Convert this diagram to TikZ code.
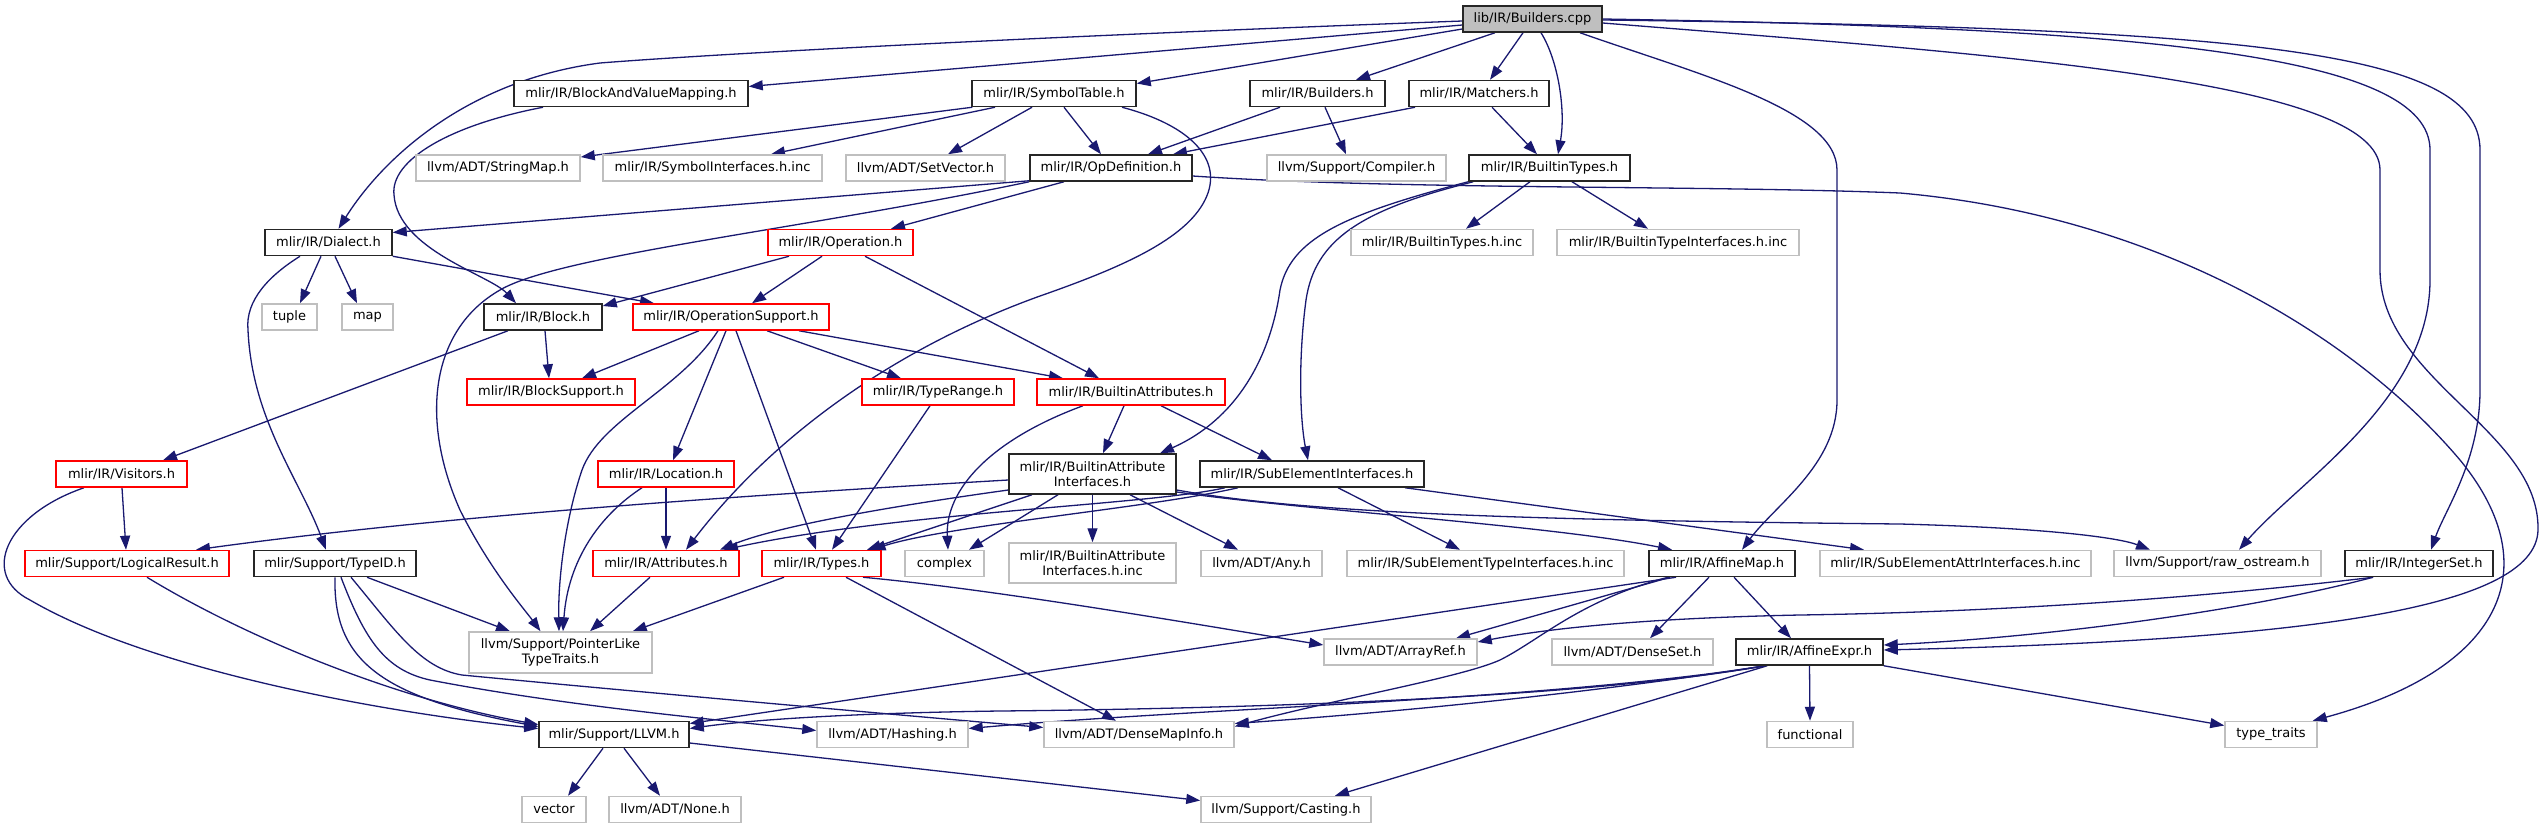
\documentclass[tikz,border=0pt]{standalone}
\usepackage{fontspec}
\setmainfont{DejaVu Sans}
\usetikzlibrary{arrows.meta,calc,backgrounds}
\definecolor{edgec}{HTML}{191970}
\definecolor{grayb}{HTML}{BFBFBF}
\definecolor{redb}{HTML}{FF0000}
\begin{document}
\begin{tikzpicture}[x=1pt,y=-1pt,
  nbase/.style={rectangle, fill=white, inner sep=0pt, minimum height=26pt, line width=1.5pt, font=\fontsize{13}{15}\selectfont, text=black},
  blk/.style={nbase, draw=black!85},
  gry/.style={nbase, draw=grayb},
  rdd/.style={nbase, draw=redb},
  dep/.style={draw=edgec, line width=1.3pt, -{Triangle[length=14pt,width=10pt]}}]
\useasboundingbox (0,0) rectangle (2540,828);
% nodes
\node[blk, fill=grayb, minimum width=139pt] (bcpp) at (1532.5,19) {lib/IR/Builders.cpp};
\node[blk, minimum width=234pt] (bavm) at (631,93.5) {mlir/IR/BlockAndValueMapping.h};
\node[blk, minimum width=164pt] (symtab) at (1054,93.5) {mlir/IR/SymbolTable.h};
\node[blk, minimum width=135pt] (buildersh) at (1317.5,93.5) {mlir/IR/Builders.h};
\node[blk, minimum width=140pt] (matchers) at (1479,93.5) {mlir/IR/Matchers.h};
\node[gry, minimum width=164pt] (stringmap) at (498,168) {llvm/ADT/StringMap.h};
\node[gry, minimum width=219pt] (symifinc) at (712.5,168) {mlir/IR/SymbolInterfaces.h.inc};
\node[gry, minimum width=159pt] (setvector) at (925.5,168) {llvm/ADT/SetVector.h};
\node[blk, minimum width=162pt] (opdef) at (1111,168) {mlir/IR/OpDefinition.h};
\node[gry, minimum width=179pt] (compiler) at (1356.5,168) {llvm/Support/Compiler.h};
\node[blk, minimum width=161pt] (btypes) at (1549.5,168) {mlir/IR/BuiltinTypes.h};
\node[blk, minimum width=127pt] (dialect) at (328.5,242.5) {mlir/IR/Dialect.h};
\node[rdd, minimum width=145pt] (operation) at (840.5,242.5) {mlir/IR/Operation.h};
\node[gry, minimum width=182pt] (btypesinc) at (1442,242.5) {mlir/IR/BuiltinTypes.h.inc};
\node[gry, minimum width=242pt] (btypeifinc) at (1678,242.5) {mlir/IR/BuiltinTypeInterfaces.h.inc};
\node[gry, minimum width=55pt] (tuple) at (289.5,317) {tuple};
\node[gry, minimum width=51pt] (mapn) at (367.5,317) {map};
\node[blk, minimum width=118pt] (block) at (543,317) {mlir/IR/Block.h};
\node[rdd, minimum width=196pt] (opsupport) at (731,317) {mlir/IR/OperationSupport.h};
\node[rdd, minimum width=168pt] (blocksupport) at (551,392) {mlir/IR/BlockSupport.h};
\node[rdd, minimum width=152pt] (typerange) at (938,392) {mlir/IR/TypeRange.h};
\node[rdd, minimum width=188pt] (battrs) at (1131,392) {mlir/IR/BuiltinAttributes.h};
\node[rdd, minimum width=131pt] (visitors) at (121.5,474) {mlir/IR/Visitors.h};
\node[rdd, minimum width=136pt] (location) at (666,474) {mlir/IR/Location.h};
\node[blk, minimum width=167pt, minimum height=40pt, align=center] (bai) at (1092.5,474) {mlir/IR/BuiltinAttribute\\Interfaces.h};
\node[blk, minimum width=224pt] (sei) at (1312,474) {mlir/IR/SubElementInterfaces.h};
\node[rdd, minimum width=204pt] (logicalresult) at (127,563.5) {mlir/Support/LogicalResult.h};
\node[blk, minimum width=162pt] (typeid) at (335,563.5) {mlir/Support/TypeID.h};
\node[rdd, minimum width=146pt] (attributes) at (666,563.5) {mlir/IR/Attributes.h};
\node[rdd, minimum width=119pt] (types) at (821.5,563.5) {mlir/IR/Types.h};
\node[gry, minimum width=79pt] (complexn) at (944.5,563.5) {complex};
\node[gry, minimum width=167pt, minimum height=40pt, align=center] (baiinc) at (1092.5,563) {mlir/IR/BuiltinAttribute\\Interfaces.h.inc};
\node[gry, minimum width=121pt] (anyn) at (1261.5,563.5) {llvm/ADT/Any.h};
\node[gry, minimum width=277pt] (seltinc) at (1485.5,563.5) {mlir/IR/SubElementTypeInterfaces.h.inc};
\node[blk, minimum width=146pt] (affmap) at (1722,563.5) {mlir/IR/AffineMap.h};
\node[gry, minimum width=271pt] (selattrinc) at (1955.5,563.5) {mlir/IR/SubElementAttrInterfaces.h.inc};
\node[gry, minimum width=207pt] (rawos) at (2217.5,563.5) {llvm/Support/raw\_ostream.h};
\node[blk, minimum width=148pt] (intset) at (2419,563.5) {mlir/IR/IntegerSet.h};
\node[gry, minimum width=183pt, minimum height=41pt, align=center] (pointerlike) at (560.5,652.5) {llvm/Support/PointerLike\\TypeTraits.h};
\node[gry, minimum width=153pt] (arrayref) at (1400.5,652) {llvm/ADT/ArrayRef.h};
\node[gry, minimum width=161pt] (denseset) at (1632.5,652) {llvm/ADT/DenseSet.h};
\node[blk, minimum width=147pt] (affexpr) at (1809.5,652) {mlir/IR/AffineExpr.h};
\node[blk, minimum width=150pt] (llvmh) at (614,734.5) {mlir/Support/LLVM.h};
\node[gry, minimum width=151pt] (hashing) at (892.5,734.5) {llvm/ADT/Hashing.h};
\node[gry, minimum width=190pt] (densemapinfo) at (1139,734.5) {llvm/ADT/DenseMapInfo.h};
\node[gry, minimum width=86pt] (functional) at (1810,734.5) {functional};
\node[gry, minimum width=92pt] (typetraits) at (2271,734.5) {type\_traits};
\node[gry, minimum width=64pt] (vectorn) at (554,809.5) {vector};
\node[gry, minimum width=132pt] (llvmnone) at (675,809.5) {llvm/ADT/None.h};
\node[gry, minimum width=170pt] (casting) at (1286,809.5) {llvm/Support/Casting.h};

\begin{pgfonlayer}{background}
\fill[white] (0,0) rectangle (2540,828);
% Builders.cpp
\draw[dep] ($(bcpp.west)+(0,2)$) .. controls (1000,38) and (700,55) .. (600,63) .. controls (470,80) and (385,155) .. ($(dialect.north)+(10,0)$);
\draw[dep] ($(bcpp.west)+(0,6)$) -- ($(bavm.east)+(0,-7)$);
\draw[dep] ($(bcpp.west)+(0,10)$) -- ($(symtab.east)+(0,-10)$);
\draw[dep] ($(bcpp.south)+(-37.5,0)$) -- ($(buildersh.north)+(38.5,0)$);
\draw[dep] ($(bcpp.south)+(-9.5,0)$) -- ($(matchers.north)+(11,0)$);
\draw[dep] ($(bcpp.south)+(8.5,0)$) .. controls (1558,60) and (1566,110) .. ($(btypes.north)+(8.5,0)$);
\draw[dep] ($(bcpp.south)+(47.5,0)$) .. controls (1700,75) and (1837,110) .. (1837,170) -- (1837,400) .. controls (1837,465) and (1775,505) .. ($(affmap.north)+(20,0)$);
\draw[dep] (bcpp.east) .. controls (2150,28) and (2430,55) .. (2430,150) -- (2430,280) .. controls (2430,400) and (2300,480) .. ($(rawos.north)+(21.5,0)$);
\draw[dep] ($(bcpp.east)+(0,1)$) .. controls (2250,28) and (2480,50) .. (2480,150) -- (2480,390) .. controls (2480,460) and (2445,510) .. ($(intset.north)+(12,0)$);
\draw[dep] ($(bcpp.east)+(0,4)$) .. controls (2000,55) and (2380,80) .. (2380,170) -- (2380,270) .. controls (2380,380) and (2540,430) .. (2538,530) .. controls (2536,610) and (2300,640) .. ($(affexpr.east)+(0,-2)$);
% BlockAndValueMapping
\draw[dep] ($(bavm.south)+(-88,0)$) .. controls (450,125) and (390,160) .. (394,195) .. controls (398,250) and (490,275) .. ($(block.north)+(-27,0)$);
% SymbolTable
\draw[dep] ($(symtab.south west)+(1,0)$) -- ($(stringmap.east)+(0,-11)$);
\draw[dep] ($(symtab.south)+(-59,0)$) -- ($(symifinc.north)+(58.5,0)$);
\draw[dep] ($(symtab.south)+(-22,0)$) -- ($(setvector.north)+(22.5,0)$);
\draw[dep] ($(symtab.south)+(10,0)$) -- ($(opdef.north)+(-10,0)$);
\draw[dep] ($(symtab.south)+(68,0)$) .. controls (1190,125) and (1225,160) .. (1205,200) .. controls (1185,240) and (1120,268) .. (1040,296) .. controls (890,350) and (770,440) .. ($(attributes.north)+(20,0)$);
% Builders.h, Matchers.h
\draw[dep] ($(buildersh.south)+(-37.5,0)$) -- ($(opdef.north)+(37,0)$);
\draw[dep] ($(buildersh.south)+(7.5,0)$) -- ($(compiler.north)+(-10.5,0)$);
\draw[dep] ($(matchers.south)+(-64,0)$) -- ($(opdef.north)+(62,0)$);
\draw[dep] ($(matchers.south)+(13,0)$) -- ($(btypes.north)+(-12.5,0)$);
% BuiltinTypes
\draw[dep] ($(btypes.south)+(-19.5,0)$) -- ($(btypesinc.north)+(24,0)$);
\draw[dep] ($(btypes.south)+(22.5,0)$) -- ($(btypeifinc.north)+(-30,0)$);
\draw[dep] (btypes.south west) .. controls (1340,215) and (1290,240) .. (1280,290) .. controls (1270,360) and (1235,420) .. ($(bai.north)+(67.5,0)$);
\draw[dep] ($(btypes.south west)+(5,0)$) .. controls (1360,210) and (1315,240) .. (1306,300) .. controls (1298,360) and (1300,420) .. ($(sei.north)+(-4,0)$);
% OpDefinition
\draw[dep] ($(opdef.south west)+(0,-1)$) -- ($(dialect.east)+(0,-10)$);
\draw[dep] (opdef.south west) .. controls (800,230) and (560,255) .. (500,290) .. controls (430,330) and (420,420) .. (460,510) .. controls (490,570) and (525,610) .. ($(pointerlike.north)+(-20,0)$);
\draw[dep] ($(opdef.south)+(-47,0)$) -- ($(operation.north)+(50.5,0)$);
\draw[dep] ($(opdef.east)+(0,8)$) .. controls (1400,190) and (1700,185) .. (1900,193) .. controls (2150,215) and (2350,330) .. (2460,460) .. controls (2550,570) and (2500,670) .. ($(typetraits.north east)+(-5,0)$);
% Dialect
\draw[dep] ($(dialect.south)+(-7.5,0)$) -- ($(tuple.north)+(10.5,0)$);
\draw[dep] ($(dialect.south)+(6.5,0)$) -- ($(mapn.north)+(-10.5,0)$);
\draw[dep] ($(dialect.south)+(-28.5,0)$) .. controls (270,275) and (245,300) .. (248,330) .. controls (252,420) and (300,480) .. ($(typeid.north)+(-9,0)$);
\draw[dep] (dialect.south east) -- ($(opsupport.north)+(-77,0)$);
% Operation
\draw[dep] ($(operation.south)+(-51.5,0)$) -- ($(block.east)+(0,-11)$);
\draw[dep] ($(operation.south)+(-18.5,0)$) -- ($(opsupport.north)+(21,0)$);
\draw[dep] ($(operation.south)+(24.5,0)$) -- ($(battrs.north)+(-32,0)$);
% Block
\draw[dep] ($(block.south)+(2,0)$) -- ($(blocksupport.north)+(-2,0)$);
\draw[dep] ($(block.south)+(-35,0)$) -- ($(visitors.north)+(41.5,0)$);
% OperationSupport
\draw[dep] ($(opsupport.south)+(-32,0)$) -- ($(blocksupport.north)+(31,0)$);
\draw[dep] ($(opsupport.south)+(-13,0)$) .. controls (680,390) and (600,420) .. (582,470) .. controls (565,520) and (558,580) .. ($(pointerlike.north)+(-1.5,0)$);
\draw[dep] ($(opsupport.south)+(-5,0)$) -- ($(location.north)+(7,0)$);
\draw[dep] ($(opsupport.south)+(5,0)$) -- ($(types.north)+(-5.5,0)$);
\draw[dep] ($(opsupport.south)+(36,0)$) -- ($(typerange.north)+(-37,0)$);
\draw[dep] ($(opsupport.south)+(68,0)$) -- ($(battrs.north)+(-68,0)$);
% TypeRange
\draw[dep] ($(typerange.south)+(-8,0)$) -- ($(types.north)+(10.5,0)$);
% BuiltinAttributes
\draw[dep] ($(battrs.south)+(-48,0)$) .. controls (990,440) and (945,490) .. ($(complexn.north)+(3.5,0)$);
\draw[dep] ($(battrs.south)+(-7,0)$) -- ($(bai.north)+(10.5,0)$);
\draw[dep] ($(battrs.south)+(30,0)$) -- ($(sei.north)+(-40,0)$);
% BuiltinAttributeInterfaces
\draw[dep] ($(bai.west)+(0,6)$) .. controls (750,495) and (450,515) .. ($(logicalresult.north)+(69,0)$);
\draw[dep] ($(bai.west)+(0,16)$) .. controls (900,505) and (780,525) .. ($(attributes.north)+(54,0)$);
\draw[dep] ($(bai.south)+(-60.5,0)$) -- ($(types.north)+(45.5,0)$);
\draw[dep] ($(bai.south)+(-34.5,0)$) -- ($(complexn.north)+(24.5,0)$);
\draw[dep] (bai.south) -- (baiinc.north);
\draw[dep] ($(bai.south)+(37.5,0)$) -- ($(anyn.north)+(-23.5,0)$);
\draw[dep] ($(bai.east)+(0,18)$) .. controls (1300,510) and (1550,525) .. ($(affmap.north)+(-50,0)$);
\draw[dep] ($(bai.east)+(0,16)$) .. controls (1300,512) and (1500,520) .. (1900,524) .. controls (2050,528) and (2120,538) .. ($(rawos.north)+(-67.5,0)$);
% SubElementInterfaces
\draw[dep] ($(sei.south)+(26,0)$) -- ($(seltinc.north)+(-25.5,0)$);
\draw[dep] ($(sei.south)+(93,0)$) -- ($(selattrinc.north)+(-91.5,0)$);
\draw[dep] ($(sei.south)+(-87,0)$) .. controls (1150,505) and (900,512) .. ($(attributes.north)+(58,0)$);
\draw[dep] ($(sei.south)+(-74,0)$) .. controls (1150,508) and (950,525) .. ($(types.north)+(50,0)$);
% Visitors, Location, LogicalResult
\draw[dep] ($(visitors.south)+(-37.5,0)$) .. controls (5,515) and (-20,575) .. (30,600) .. controls (150,670) and (380,712) .. ($(llvmh.west)+(0,-6)$);
\draw[dep] ($(visitors.south)+(0.5,0)$) -- ($(logicalresult.north)+(-1,0)$);
\draw[dep] (location.south) -- (attributes.north);
\draw[dep] ($(location.south)+(-24,0)$) .. controls (600,515) and (568,560) .. ($(pointerlike.north)+(2.5,0)$);
\draw[dep] ($(logicalresult.south)+(20,0)$) .. controls (250,640) and (400,700) .. ($(llvmh.west)+(0,-10)$);
% TypeID
\draw[dep] (typeid.south) .. controls (333,660) and (380,697) .. ($(llvmh.west)+(0,-8)$);
\draw[dep] ($(typeid.south)+(6,0)$) .. controls (365,640) and (385,670) .. (430,680) .. controls (560,705) and (700,718) .. ($(hashing.west)+(0,-4)$);
\draw[dep] ($(typeid.south)+(16,0)$) .. controls (395,630) and (420,668) .. (462,675) .. controls (650,693) and (900,715) .. ($(densemapinfo.west)+(0,-7)$);
\draw[dep] ($(typeid.south)+(32,0)$) -- ($(pointerlike.north)+(-50.5,0)$);
% Attributes, Types
\draw[dep] ($(attributes.south)+(-16,0)$) -- ($(pointerlike.north)+(29.5,0)$);
\draw[dep] ($(types.south)+(-37.5,0)$) -- ($(pointerlike.north east)+(-20,0)$);
\draw[dep] ($(types.south)+(24.5,0)$) -- ($(densemapinfo.north)+(-23,0)$);
\draw[dep] ($(types.south)+(41.5,0)$) .. controls (1000,590) and (1200,625) .. ($(arrayref.west)+(0,-7)$);
% AffineMap
\draw[dep] ($(affmap.south)+(-46,0)$) -- ($(llvmh.east)+(0,-11)$);
\draw[dep] ($(affmap.south)+(-52,0)$) -- ($(arrayref.north)+(55.5,0)$);
\draw[dep] ($(affmap.south)+(-54,0)$) .. controls (1580,600) and (1540,640) .. (1500,660) .. controls (1460,678) and (1330,700) .. ($(densemapinfo.east)+(0,-8)$);
\draw[dep] ($(affmap.south)+(-13,0)$) -- ($(denseset.north)+(17.5,0)$);
\draw[dep] ($(affmap.south)+(12,0)$) -- ($(affexpr.north)+(-18.5,0)$);
% IntegerSet
\draw[dep] ($(intset.south)+(-46,0)$) .. controls (2200,598) and (2000,612) .. (1800,615) .. controls (1650,618) and (1550,628) .. ($(arrayref.east)+(0,-10)$);
\draw[dep] ($(intset.south)+(-46,0)$) .. controls (2250,610) and (2050,637) .. ($(affexpr.east)+(0,-7)$);
% AffineExpr
\draw[dep] ($(affexpr.south west)+(30,0)$) .. controls (1600,695) and (1300,708) .. (1000,711) .. controls (850,713) and (750,720) .. ($(llvmh.east)+(0,-6)$);
\draw[dep] ($(affexpr.south west)+(30,0)$) .. controls (1550,700) and (1200,708) .. ($(hashing.east)+(0,-6)$);
\draw[dep] ($(affexpr.south west)+(30,0)$) .. controls (1600,692) and (1400,712) .. ($(densemapinfo.east)+(0,-11)$);
\draw[dep] ($(affexpr.south west)+(32,0)$) -- ($(casting.north)+(49,0)$);
\draw[dep] (affexpr.south) -- (functional.north);
\draw[dep] (affexpr.south east) -- ($(typetraits.west)+(0,-9)$);
% LLVM.h
\draw[dep] ($(llvmh.south)+(-11,0)$) -- ($(vectorn.north)+(14,0)$);
\draw[dep] ($(llvmh.south)+(10,0)$) -- ($(llvmnone.north)+(-15,0)$);
\draw[dep] ($(llvmh.east)+(0,8.5)$) -- ($(casting.west)+(0,-9)$);
\end{pgfonlayer}
\end{tikzpicture}
\end{document}
